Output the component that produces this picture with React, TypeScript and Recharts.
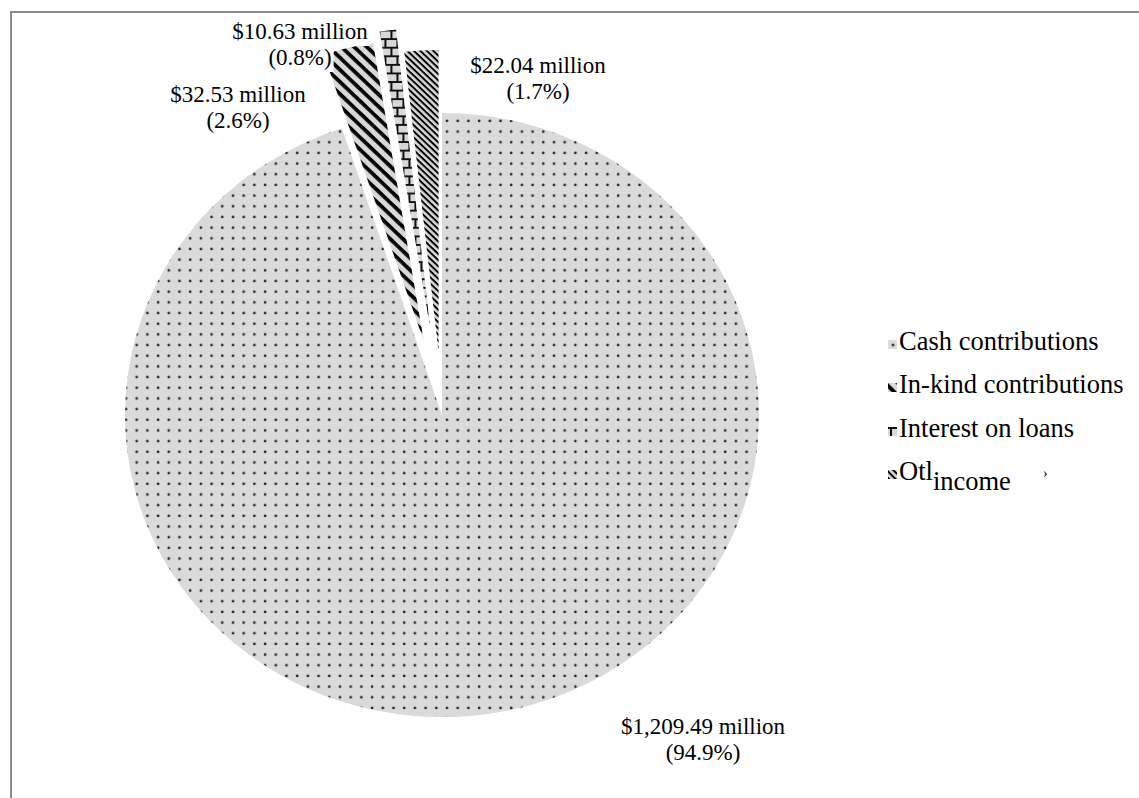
import { PieChart, Pie, Sector, Legend } from "recharts";

// Income sources, $ millions
const categories = [
  "Cash contributions",
  "In-kind contributions",
  "Interest on loans",
  "Other income",
];
const amounts = [1209.49, 32.53, 10.63, 22.04];

const data = categories.map((name, i) => ({ name, value: amounts[i] }));

const patternIds = ["pat-cash", "pat-inkind", "pat-interest", "pat-other"];

// how far each slice is pulled out from the centre (px)
const explode = [0, 76, 86, 63];
// label centre / first baseline, relative to the pie centre
const labelOffsets: [number, number][] = [
  [261, 319],
  [-204, -313],
  [-142, -376],
  [96, -342],
];

const CX = 442;
const CY = 415;
const RX = 317;
const SQUASH = 0.953; // pie is drawn slightly flattened
const RAD = Math.PI / 180;
const FONT = "'Liberation Serif', 'Times New Roman', serif";
const LABEL_SIZE = 23;
const LINE_GAP = 26;

const money = (v: number) =>
  `$${v.toLocaleString("en-US", { minimumFractionDigits: 2, maximumFractionDigits: 2 })} million`;

// rough Times advance widths (em) for sizing the white label boxes
const glyphWidth = (ch: string) => {
  if ("0123456789$".includes(ch)) return 0.5;
  if (".,  ".includes(ch)) return 0.25;
  if ("()".includes(ch)) return 0.333;
  if (ch === "%") return 0.833;
  if (ch === "m") return 0.778;
  if ("il".includes(ch)) return 0.278;
  return 0.5;
};
const textWidth = (s: string) =>
  s.split("").reduce((sum, ch) => sum + glyphWidth(ch), 0) * LABEL_SIZE;

// draws the exploded slice plus its two-line label, each line on a white box
const renderSlice = (props: any) => {
  const { cx, cy, midAngle, startAngle, endAngle, outerRadius, index, value, percent } = props;
  const d = explode[index];
  const ox = cx + d * Math.cos(-midAngle * RAD);
  const oy = cy + d * Math.sin(-midAngle * RAD);
  const [lx, ly] = labelOffsets[index];
  const tx = cx + lx;
  const lines = [money(value), `(${(percent * 100).toFixed(1)}%)`];
  return (
    <g key={`slice-${index}`}>
      <g transform={`translate(${ox} ${oy}) scale(1 ${SQUASH})`}>
        <Sector
          cx={0}
          cy={0}
          innerRadius={0}
          outerRadius={outerRadius}
          startAngle={startAngle}
          endAngle={endAngle}
          fill={`url(#${patternIds[index]})`}
          stroke="none"
        />
      </g>
      {lines.map((line, k) => {
        const w = textWidth(line) + 4;
        return (
          <rect
            key={line}
            x={tx - w / 2}
            y={cy + ly + k * LINE_GAP - 19}
            width={w}
            height={LINE_GAP}
            fill="#fff"
          />
        );
      })}
      <text
        x={tx}
        y={cy + ly}
        textAnchor="middle"
        fontFamily={FONT}
        fontSize={LABEL_SIZE}
        fill="#000"
      >
        <tspan x={tx}>{lines[0]}</tspan>
        <tspan x={tx} dy={LINE_GAP}>{lines[1]}</tspan>
      </text>
    </g>
  );
};

const renderLegend = () => (
  <div style={{ fontFamily: FONT, fontSize: 26.5, lineHeight: "43.5px", color: "#000" }}>
    {categories.map((name, i) => (
      <div key={name} style={{ whiteSpace: "nowrap", height: 43.5 }}>
        <svg width={9} height={9} style={{ marginRight: 2, verticalAlign: "1px" }}>
          <rect width={9} height={9} fill={`url(#${patternIds[i]})`} />
        </svg>
        {i === 3 ? (
          // last entry is typeset with the word split across baselines
          <span>
            Otl
            <span style={{ position: "relative", top: 10 }}>income</span>
            <span style={{ position: "relative", top: -2, marginLeft: 32, fontSize: 14 }}>›</span>
          </span>
        ) : (
          name
        )}
      </div>
    ))}
  </div>
);

export default function App() {
  return (
    <div style={{ position: "fixed", left: 0, top: 0, width: 1139, height: 798, background: "#fff" }}>
      <svg width={0} height={0} style={{ position: "absolute" }}>
        <defs>
          <pattern id="pat-cash" width={10.7} height={11.2} patternUnits="userSpaceOnUse">
            <rect width={10.7} height={11.2} fill="#dadada" />
            <circle cx={5} cy={5} r={1.4} fill="#2a2a2a" />
          </pattern>
          <pattern
            id="pat-inkind"
            width={9}
            height={9}
            patternUnits="userSpaceOnUse"
            patternTransform="rotate(45)"
          >
            <rect width={9} height={9} fill="#d8d8d8" />
            <rect y={0} width={9} height={3.8} fill="#000" />
          </pattern>
          <pattern id="pat-interest" width={12} height={18} patternUnits="userSpaceOnUse">
            <rect width={12} height={18} fill="#d8d8d8" />
            <rect y={0} width={12} height={2} fill="#111" />
            <rect y={9} width={12} height={2} fill="#111" />
            <rect x={2} y={0} width={2} height={9} fill="#111" />
            <rect x={8} y={9} width={2} height={9} fill="#111" />
          </pattern>
          <pattern
            id="pat-other"
            width={4.6}
            height={4.6}
            patternUnits="userSpaceOnUse"
            patternTransform="rotate(45)"
          >
            <rect width={4.6} height={4.6} fill="#d8d8d8" />
            <rect y={0} width={4.6} height={2} fill="#000" />
          </pattern>
        </defs>
      </svg>
      <div
        style={{
          position: "absolute",
          left: 10,
          top: 11,
          width: 1129,
          height: 787,
          boxSizing: "border-box",
          borderTop: "2px solid #8c8c8c",
          borderLeft: "2px solid #8c8c8c",
        }}
      />
      <div style={{ position: "absolute", left: 0, top: 0 }}>
        <PieChart width={1139} height={798} margin={{ top: 0, right: 0, bottom: 0, left: 0 }}>
          <Pie
            data={data}
            dataKey="value"
            nameKey="name"
            cx={CX}
            cy={CY}
            outerRadius={RX}
            startAngle={90}
            endAngle={-270}
            fill="none"
            stroke="none"
            label={renderSlice}
            labelLine={false}
            isAnimationActive={false}
          />
          <Legend
            content={renderLegend}
            wrapperStyle={{ position: "absolute", left: 888, top: 319.5, width: 250 }}
          />
        </PieChart>
      </div>
    </div>
  );
}
